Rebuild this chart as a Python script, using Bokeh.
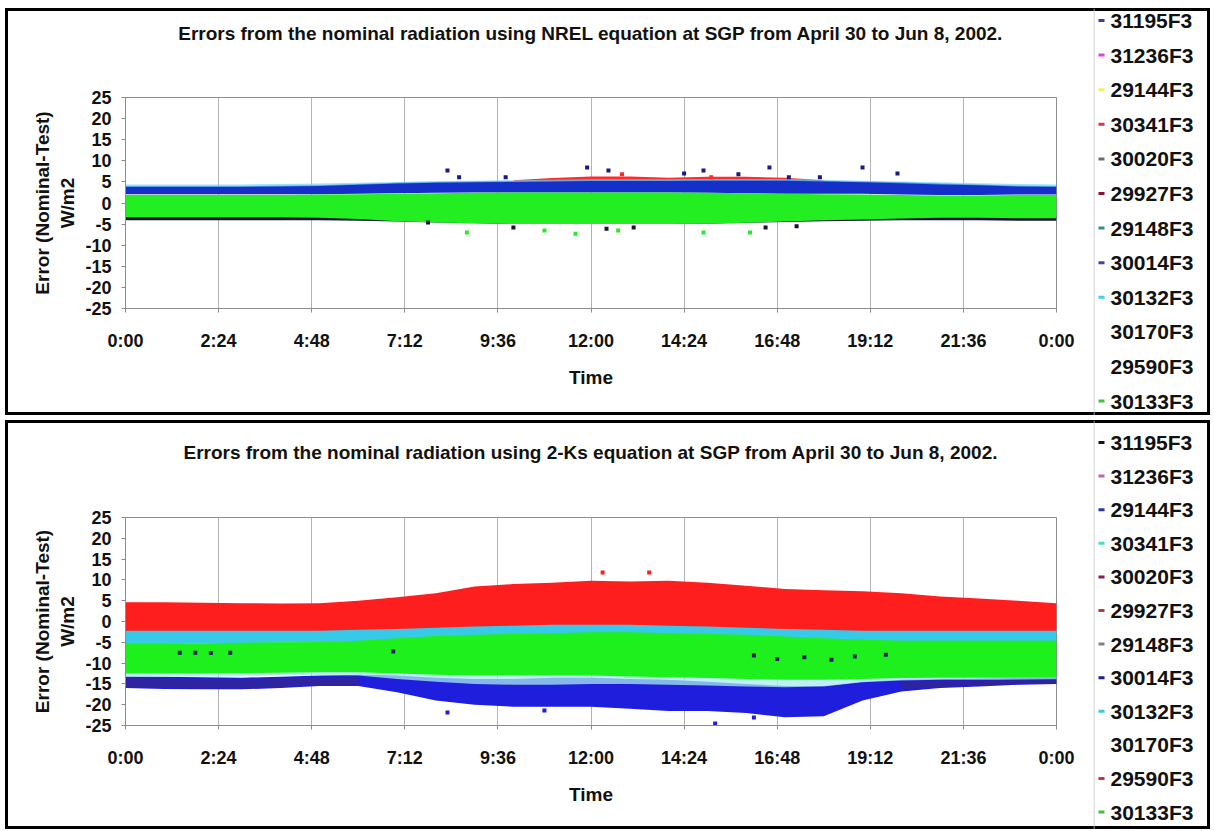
from bokeh.plotting import figure
from bokeh.models import Range1d, FixedTicker, Title, Span
from bokeh.layouts import column, row
from bokeh.core.properties import value
from bokeh.embed import file_html
from bokeh.resources import INLINE

FONT = "Liberation Sans"
GRAY = "#8c8c8c"
MAIN_W = 1088
LEG_W = 117

# ---------------- data ----------------
HOURS = [0, 1, 2, 3, 4, 5, 6, 7, 8, 9, 10, 11, 12, 13, 14, 15, 16, 17, 18, 19, 20, 21, 22, 23, 24]
X_TICKS = [0.0, 2.4, 4.8, 7.2, 9.6, 12.0, 14.4, 16.8, 19.2, 21.6, 24.0]
X_TICK_LABELS = ["0:00", "2:24", "4:48", "7:12", "9:36", "12:00", "14:24", "16:48", "19:12", "21:36", "0:00"]
Y_TICKS = [-25, -20, -15, -10, -5, 0, 5, 10, 15, 20, 25]
Y_TICK_LABELS = ["-25", "-20", "-15", "-10", "-5", "0", "5", "10", "15", "20", "25"]

SERIES = ["31195F3", "31236F3", "29144F3", "30341F3", "30020F3", "29927F3",
          "29148F3", "30014F3", "30132F3", "30170F3", "29590F3", "30133F3"]
TOP_LEGEND_COLORS = ["#3a3aa0", "#e040e0", "#f0f060", "#e03050", "#607070", "#901030",
                     "#309090", "#4040b0", "#40d0e8", "#ffffff", "#ffffff", "#40c040"]
BOT_LEGEND_COLORS = ["#101030", "#c060c0", "#3030b0", "#40e0c0", "#802050", "#b04030",
                     "#808080", "#202090", "#40c8d8", "#ffffff", "#d03040", "#40c040"]

TOP_TITLE = "Errors from the nominal radiation using NREL equation at SGP from April 30 to Jun 8, 2002."
BOT_TITLE = "Errors from the nominal radiation using 2-Ks equation at SGP from April 30 to Jun 8, 2002."
Y_LABEL = "Error (Nominal-Test)\nW/m2"
X_LABEL = "Time"

# --- top panel (NREL) envelopes of the scatter clouds, read hourly ---
TOP_DARK_LO = [-4.1, -4.1, -4.1, -4.1, -4.1, -4.1, -4.2, -4.4, -4.6, -4.8, -5.0, -5.0, -5.0,
               -5.0, -5.0, -4.9, -4.7, -4.5, -4.3, -4.2, -4.1, -4.1, -4.1, -4.2, -4.2]
TOP_DARK_HI = [-3.0, -3.0, -3.0, -3.0, -3.0, -3.0, -3.0, -3.0, -3.0, -3.0, -3.0, -3.0, -3.0,
               -3.0, -3.0, -3.0, -3.0, -3.0, -3.0, -3.0, -3.0, -3.0, -3.0, -3.0, -3.0]
TOP_RED_HOURS = [10, 11, 12, 13, 14, 15, 16, 17, 18]
TOP_RED_LO = [4.0, 4.0, 4.0, 4.0, 4.0, 4.0, 4.0, 4.0, 4.0]
TOP_RED_HI = [5.4, 5.9, 6.3, 6.3, 6.0, 6.2, 6.2, 6.0, 5.4]
TOP_BLUE_LO = [2.1, 2.1, 2.1, 2.1, 2.1, 2.1, 2.2, 2.3, 2.4, 2.5, 2.5, 2.5, 2.5,
               2.5, 2.5, 2.4, 2.3, 2.2, 2.2, 2.2, 2.0, 1.9, 1.9, 2.0, 2.0]
TOP_BLUE_HI = [4.0, 4.0, 4.0, 4.0, 4.1, 4.2, 4.5, 4.8, 5.0, 5.1, 5.2, 5.3, 5.4,
               5.4, 5.4, 5.5, 5.5, 5.5, 5.3, 5.1, 4.9, 4.6, 4.4, 4.1, 4.0]
TOP_CYAN_LO = [3.8, 3.8, 3.8, 3.8, 3.9, 4.0, 4.3, 4.6, 4.8, 4.9, 5.0, 5.1, 5.2,
               5.2, 5.2, 5.3, 5.3, 5.3, 5.1, 4.9, 4.7, 4.4, 4.2, 3.9, 3.8]
TOP_CYAN_HI = [4.4, 4.4, 4.4, 4.4, 4.5, 4.6, 4.8, 5.0, 5.2, 5.3, 5.4, 5.5, 5.6,
               5.6, 5.6, 5.7, 5.7, 5.7, 5.5, 5.3, 5.1, 4.9, 4.7, 4.5, 4.4]
TOP_GREEN_LO = [-3.4, -3.4, -3.4, -3.4, -3.4, -3.5, -3.8, -4.3, -4.6, -4.8, -5.0, -5.0, -5.0,
                -5.0, -5.0, -4.9, -4.7, -4.4, -4.1, -3.9, -3.7, -3.5, -3.5, -3.6, -3.6]
TOP_GREEN_HI = [1.9, 1.9, 1.9, 1.9, 1.9, 2.0, 2.1, 2.2, 2.3, 2.4, 2.5, 2.5, 2.5,
                2.5, 2.5, 2.4, 2.3, 2.2, 2.1, 2.0, 1.9, 1.8, 1.8, 1.9, 1.9]
TOP_NAVY_PTS_X = [8.3, 8.6, 9.8, 11.9, 12.45, 14.4, 14.9, 15.8, 16.6, 17.1, 17.9, 19.0, 19.9]
TOP_NAVY_PTS_Y = [7.7, 6.1, 6.1, 8.4, 7.7, 7.0, 7.7, 6.8, 8.4, 6.1, 6.1, 8.4, 7.0]
TOP_RED_PTS_X = [12.8, 15.1]
TOP_RED_PTS_Y = [6.8, 6.1]
TOP_GREEN_PTS_X = [8.8, 10.8, 11.6, 12.7, 14.9, 16.1]
TOP_GREEN_PTS_Y = [-7.0, -6.5, -7.3, -6.5, -7.0, -7.0]
TOP_DARK_PTS_X = [7.8, 10.0, 12.4, 13.1, 16.5, 17.3]
TOP_DARK_PTS_Y = [-4.6, -5.8, -6.1, -5.8, -5.8, -5.5]

# --- bottom panel (2-Ks) envelopes ---
BOT_BLUE_LO = [-16.0, -16.2, -16.3, -16.3, -16.0, -15.5, -15.5, -17.0, -19.0, -20.0, -20.5, -20.5, -20.5,
               -21.0, -21.5, -21.5, -22.0, -23.0, -22.8, -19.0, -16.8, -16.0, -15.6, -15.2, -15.0]
BOT_BLUE_HI = [-13.2, -13.3, -13.4, -13.5, -13.3, -13.0, -12.8, -13.0, -13.5, -13.8, -13.8, -13.5, -13.5,
               -13.8, -14.0, -14.5, -15.0, -15.5, -15.5, -14.5, -14.0, -13.8, -13.7, -13.6, -13.6]
BOT_AQUA_LO = [-13.3, -13.3, -13.3, -13.2, -13.0, -12.9, -13.0, -13.8, -14.5, -15.0, -15.2, -15.2, -15.0,
               -15.0, -15.2, -15.4, -15.6, -15.8, -15.6, -14.6, -14.2, -14.0, -14.0, -14.0, -14.0]
BOT_AQUA_HI = [-12.4, -12.4, -12.4, -12.3, -12.2, -12.1, -12.1, -12.4, -12.7, -12.9, -12.9, -12.9, -12.9,
               -13.1, -13.3, -13.5, -13.7, -13.9, -13.9, -13.7, -13.5, -13.4, -13.4, -13.4, -13.4]
BOT_NAVY1_HOURS = [0, 1, 2, 3, 4, 5, 6]
BOT_NAVY1_LO = [-15.8, -16.0, -16.1, -16.1, -15.8, -15.3, -15.2]
BOT_NAVY1_HI = [-13.6, -13.7, -13.8, -13.9, -13.7, -13.4, -13.2]
BOT_NAVY2_HOURS = [20, 21, 22, 23, 24]
BOT_NAVY2_LO = [-16.2, -15.8, -15.4, -15.1, -14.9]
BOT_NAVY2_HI = [-14.4, -14.2, -14.1, -14.0, -13.9]
BOT_CYAN_LO = [-5.4, -5.4, -5.3, -5.2, -5.1, -5.0, -4.8, -4.5, -4.2, -4.0, -3.8, -3.6, -3.6,
               -3.6, -3.8, -4.0, -4.2, -4.4, -4.6, -4.7, -4.8, -4.8, -4.8, -4.8, -4.8]
BOT_CYAN_HI = [-2.0, -2.0, -2.0, -2.0, -2.0, -2.0, -1.8, -1.5, -1.0, -0.5, 0.0, 0.0, 0.0,
               0.0, 0.0, -0.5, -1.0, -1.5, -1.8, -2.0, -2.0, -2.0, -2.0, -2.0, -2.0]
BOT_RED_LO = [-2.2, -2.2, -2.2, -2.2, -2.2, -2.2, -2.0, -1.8, -1.5, -1.2, -1.0, -0.8, -0.8,
              -0.8, -1.0, -1.2, -1.5, -1.8, -2.0, -2.2, -2.2, -2.2, -2.2, -2.2, -2.2]
BOT_RED_HI = [4.6, 4.6, 4.5, 4.4, 4.3, 4.4, 5.0, 5.8, 6.8, 8.4, 9.0, 9.3, 9.8,
              9.6, 9.8, 9.3, 8.6, 7.8, 7.5, 7.3, 6.8, 6.0, 5.5, 5.0, 4.4]
BOT_GREEN_LO = [-12.5, -12.5, -12.5, -12.4, -12.3, -12.2, -12.2, -12.5, -12.8, -13.0, -13.0, -13.0, -13.0,
                -13.2, -13.4, -13.6, -13.8, -14.0, -14.0, -13.8, -13.6, -13.5, -13.5, -13.5, -13.5]
BOT_GREEN_HI = [-5.3, -5.3, -5.2, -5.1, -5.0, -4.9, -4.6, -4.0, -3.5, -3.2, -3.0, -2.8, -2.6,
                -2.6, -2.8, -3.0, -3.2, -3.6, -4.0, -4.4, -4.6, -4.6, -4.6, -4.6, -4.6]
BOT_RED_PTS_X = [12.3, 13.5]
BOT_RED_PTS_Y = [11.8, 11.8]
BOT_BLUE_PTS_X = [8.3, 10.8, 15.2, 16.2]
BOT_BLUE_PTS_Y = [-21.9, -21.4, -24.5, -23.1]
BOT_DARK_PTS_X = [1.4, 1.8, 2.2, 2.7, 6.9, 16.2, 16.8, 17.5, 18.2, 18.8, 19.6]
BOT_DARK_PTS_Y = [-7.5, -7.5, -7.6, -7.5, -7.2, -8.2, -9.0, -8.6, -9.2, -8.4, -8.0]


# ---------------- helpers ----------------
def make_main(title_text, height, frame_left, frame_right, frame_top, frame_bottom, spacer):
    p = figure(width=MAIN_W, height=height, x_range=Range1d(0, 24), y_range=Range1d(-25, 25),
               output_backend="svg", toolbar_location=None,
               min_border_left=frame_left, min_border_right=MAIN_W - frame_right,
               min_border_top=frame_top, min_border_bottom=height - frame_bottom)
    p.frame_align = False
    p.border_fill_alpha = 0
    p.background_fill_color = "white"
    p.outline_line_color = GRAY
    p.outline_line_width = 1
    # titles: spacer nearest the frame, real title above it
    p.add_layout(Title(text=" ", text_font_size="1px", standoff=spacer), "above")
    p.add_layout(Title(text=title_text, align="center", text_font=FONT, text_font_size="19px",
                       text_font_style="bold", text_color="#111111", standoff=0), "above")

    p.xaxis.ticker = FixedTicker(ticks=X_TICKS)
    p.xaxis.major_label_overrides = dict(zip(X_TICKS, X_TICK_LABELS))
    p.yaxis.ticker = FixedTicker(ticks=Y_TICKS)
    p.yaxis.major_label_overrides = dict(zip(Y_TICKS, Y_TICK_LABELS))
    p.xaxis.axis_label = X_LABEL
    p.yaxis.axis_label = Y_LABEL
    for ax in (p.xaxis, p.yaxis):
        ax.axis_line_color = GRAY
        ax.major_tick_line_color = GRAY
        ax.major_tick_out = 4
        ax.major_tick_in = 0
        ax.minor_tick_line_color = None
        ax.major_label_text_font = FONT
        ax.major_label_text_font_size = "18px"
        ax.major_label_text_font_style = "bold"
        ax.major_label_text_color = "#111111"
        ax.axis_label_text_font = FONT
        ax.axis_label_text_font_size = "19px"
        ax.axis_label_text_font_style = "bold"
        ax.axis_label_text_color = "#111111"
    p.xaxis.major_label_standoff = 18
    p.xaxis.axis_label_standoff = 13
    p.yaxis.major_label_standoff = 10
    p.yaxis.axis_label_standoff = 4
    p.xgrid.grid_line_color = "#b4b4b4"
    p.xgrid.grid_line_width = 1
    p.ygrid.grid_line_color = None
    return p


def make_legend(height, colors, first_center, pitch):
    lg = figure(width=LEG_W, height=height, x_range=Range1d(0, LEG_W), y_range=Range1d(height, 0),
                output_backend="svg", toolbar_location=None, x_axis_type=None, y_axis_type=None,
                min_border=0, min_border_left=0, min_border_right=0, min_border_top=0,
                min_border_bottom=0)
    lg.frame_align = False
    lg.outline_line_color = None
    lg.grid.visible = False
    lg.border_fill_alpha = 0
    lg.background_fill_alpha = 0
    ys = [first_center + i * pitch for i in range(len(SERIES))]
    lg.scatter(x=[8] * len(SERIES), y=ys, marker="dash", size=6, line_color=colors, line_width=3)
    lg.text(x=[17] * len(SERIES), y=ys, text=SERIES, text_font=value(FONT), text_font_size="21px",
            text_font_style="bold", text_color="#111111", text_align="left", text_baseline="middle")
    lg.add_layout(Span(location=0.5, dimension="height", line_color="#c4c4c4", line_width=1))
    return lg


def band(p, x, lo, hi, color, alpha=1.0):
    p.varea(x=x, y1=lo, y2=hi, fill_color=color, fill_alpha=alpha)


def dots(p, x, y, color):
    p.scatter(x=x, y=y, marker="square", size=4, fill_color=color, line_color=None)


PANEL_STYLE = {"box-shadow": "inset 0 0 0 3px #000000", "background": "#ffffff"}

# ---------------- top panel ----------------
top = make_main(TOP_TITLE, 407, 120, 1051, 89, 300, 51)
band(top, HOURS, TOP_DARK_LO, TOP_DARK_HI, "#15153a")              # 31195F3
band(top, TOP_RED_HOURS, TOP_RED_LO, TOP_RED_HI, "#ff2a2a")        # 30341F3
band(top, HOURS, TOP_BLUE_LO, TOP_BLUE_HI, "#1430c8")              # 30014F3
band(top, HOURS, TOP_CYAN_LO, TOP_CYAN_HI, "#6fd4f5", 0.7)         # 30132F3
band(top, HOURS, TOP_GREEN_LO, TOP_GREEN_HI, "#22ee22")            # 30133F3
dots(top, TOP_NAVY_PTS_X, TOP_NAVY_PTS_Y, "#1a1a80")
dots(top, TOP_RED_PTS_X, TOP_RED_PTS_Y, "#ff2a2a")
dots(top, TOP_GREEN_PTS_X, TOP_GREEN_PTS_Y, "#22ee22")
dots(top, TOP_DARK_PTS_X, TOP_DARK_PTS_Y, "#15153a")
top_leg = make_legend(407, TOP_LEGEND_COLORS, 12, 34.6)

# ---------------- bottom panel ----------------
bot = make_main(BOT_TITLE, 409, 120, 1051, 97, 305, 52)
band(bot, HOURS, BOT_BLUE_LO, BOT_BLUE_HI, "#1e1edc")              # 29144F3
band(bot, HOURS, BOT_AQUA_LO, BOT_AQUA_HI, "#a8ecf0", 0.75)        # 30341F3
band(bot, BOT_NAVY1_HOURS, BOT_NAVY1_LO, BOT_NAVY1_HI, "#2e24a0")  # 30014F3
band(bot, BOT_NAVY2_HOURS, BOT_NAVY2_LO, BOT_NAVY2_HI, "#2e24a0")
band(bot, HOURS, BOT_CYAN_LO, BOT_CYAN_HI, "#38c8e8")              # 30132F3
band(bot, HOURS, BOT_RED_LO, BOT_RED_HI, "#ff1e1e")                # 29590F3
band(bot, HOURS, BOT_GREEN_LO, BOT_GREEN_HI, "#1ef01e")            # 30133F3
dots(bot, BOT_RED_PTS_X, BOT_RED_PTS_Y, "#ff1e1e")
dots(bot, BOT_BLUE_PTS_X, BOT_BLUE_PTS_Y, "#1e1edc")
dots(bot, BOT_DARK_PTS_X, BOT_DARK_PTS_Y, "#20205a")
bot_leg = make_legend(409, BOT_LEGEND_COLORS, 22, 33.6)

top_row = row(top, top_leg, spacing=0, styles=PANEL_STYLE)
bot_row = row(bot, bot_leg, spacing=0, styles=PANEL_STYLE)
layout = column(top_row, bot_row, spacing=5, styles={"margin-left": "5px", "margin-top": "8px"})
open("out.html", "w").write(file_html(layout, INLINE))
